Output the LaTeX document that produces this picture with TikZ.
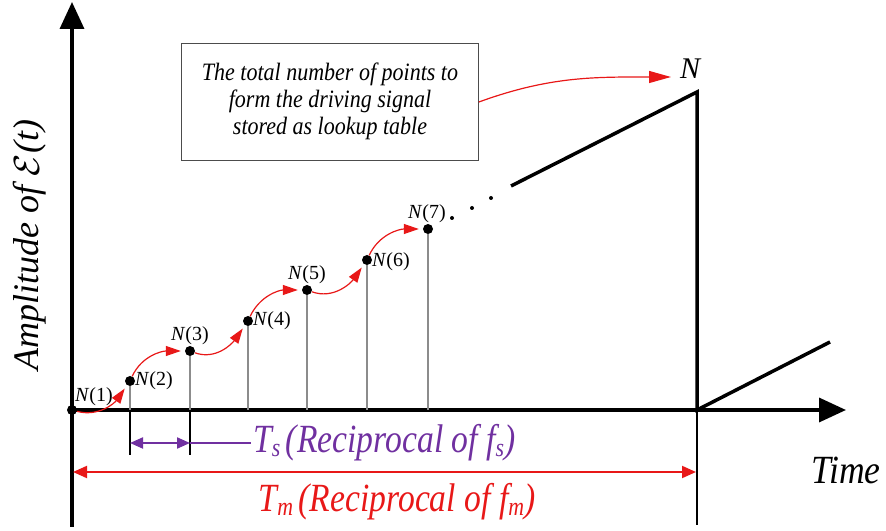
\RequirePackage{fix-cm}
\documentclass[tikz,border=0pt]{standalone}
\usepackage{fontspec}
\setmainfont{Liberation Serif}
\usetikzlibrary{arrows.meta}
\definecolor{sigred}{RGB}{232,24,24}
\definecolor{tspurple}{RGB}{112,48,160}
\tikzset{
  axis/.style={line width=3.5pt,-{Triangle[length=27pt,width=24pt]}},
  stem/.style={line width=1.4pt,black!45},
  tick/.style={line width=2pt},
  sample/.style={circle,fill=black,inner sep=0pt,minimum size=10pt},
  hop/.style={sigred,line width=1.2pt,-{Triangle[length=15pt,width=10pt]},shorten >=4pt},
  lbl/.style={font=\fontsize{20}{24}\selectfont,inner sep=1pt},
  period/.style={font=\fontsize{40}{44}\selectfont\itshape,inner sep=0pt},
}
\newcommand{\Nk}[1]{\textit{N}(#1)}
\newcommand{\lowsub}[1]{\raisebox{-0.2ex}{\fontsize{26}{28}\selectfont\itshape #1}}
\newcommand{\narrow}[2]{\scalebox{#1}[1]{#2}}
\begin{document}
\begin{tikzpicture}[x=1pt,y=1pt]
\useasboundingbox (0,0) rectangle (886,530);

% axes
\coordinate (O) at (72,120);
\draw[axis] (72,3) -- (72,528);
\draw[axis] (O) -- (846,120);
\node[rotate=90,font=\fontsize{36}{40}\selectfont\itshape] (ylab) at (30,285) {Amplitude of $\mathcal{E}$(\textit{t})};
\node[font=\fontsize{40}{44}\selectfont\itshape] (xlab) at (846,60) {\narrow{0.89}{Time}};

% samples
\node[sample] (N1) at (O) {};
\node[sample] (N2) at (130,149) {};
\node[sample] (N3) at (190,179) {};
\node[sample] (N4) at (248,209) {};
\node[sample] (N5) at (307,240) {};
\node[sample] (N6) at (367,270) {};
\node[sample] (N7) at (428,301) {};
\foreach \k in {2,...,7}
  \draw[stem] (N\k) -- (N\k |- O);

\node[lbl,anchor=south west] (l1) at (74,123) {\Nk{1}};
\node[lbl,anchor=west] (l2) at (134,149) {\Nk{2}};
\node[lbl,anchor=south] (l3) at (190,184) {\Nk{3}};
\node[lbl,anchor=west] (l4) at (252,209) {\Nk{4}};
\node[lbl,anchor=south] (l5) at (307,245) {\Nk{5}};
\node[lbl,anchor=west] (l6) at (371,268) {\Nk{6}};
\node[lbl,anchor=south] (l7) at (427,306) {\Nk{7}};

\draw[hop] (N1) to[out=-15,in=235] (N2);
\draw[hop] (N2) to[out=65,in=180] (N3);
\draw[hop] (N3) to[out=-20,in=235] (N4);
\draw[hop] (N4) to[out=65,in=180] (N5);
\draw[hop] (N5) to[out=-20,in=235] (N6);
\draw[hop] (N6) to[out=65,in=180] (N7);

% continuation and sawtooth
\fill (452,312) circle (2pt) (472,322) circle (2pt) (491,332) circle (2pt);
\coordinate (ramp) at (511,344);
\coordinate (top) at (697,438);
\coordinate (reset) at (697,120);
\draw[line width=3.5pt] (ramp) -- (top) -- (reset) -- (830,188);
\draw[tick] (reset) -- (697,5);
\node[font=\fontsize{30}{32}\selectfont\itshape] (Nlab) at (690,461) {N};

% lookup table note
\node[draw=black!70,line width=0.8pt,minimum width=297pt,minimum height=117pt,inner sep=0pt,
  font=\fontsize{25}{27}\selectfont\itshape] (note) at (330,428)
  {\narrow{0.88}{\begin{tabular}{@{}c@{}}The total number of points to\\form the driving signal\\stored as lookup table\end{tabular}}};
\draw[sigred,line width=1.2pt,-{Triangle[length=22pt,width=12pt]}] (note.east) to[out=20,in=180] (671,453);

% periods
\draw[tick] (N2 |- O) -- (130,75);
\draw[tick] (N3 |- O) -- (190,75);
\draw[tspurple,line width=2pt,{Triangle[length=13pt,width=11pt]}-{Triangle[length=13pt,width=11pt]}] (130,87) -- (190,87);
\draw[tspurple,line width=2pt] (190,87) -- (251,87);
\node[period,anchor=base west,text=tspurple] (Ts) at (253,77)
  {\narrow{0.84}{T\lowsub{s}\,(Reciprocal of \textit{f}\lowsub{s})}};
\draw[sigred,line width=2pt,{Triangle[length=14pt,width=12pt]}-{Triangle[length=14pt,width=12pt]}] (73,58) -- (696,58);
\node[period,anchor=base,text=sigred] (Tm) at (397,18)
  {\narrow{0.84}{T\lowsub{m}\,(Reciprocal of \textit{f}\lowsub{m})}};
\end{tikzpicture}
\end{document}
